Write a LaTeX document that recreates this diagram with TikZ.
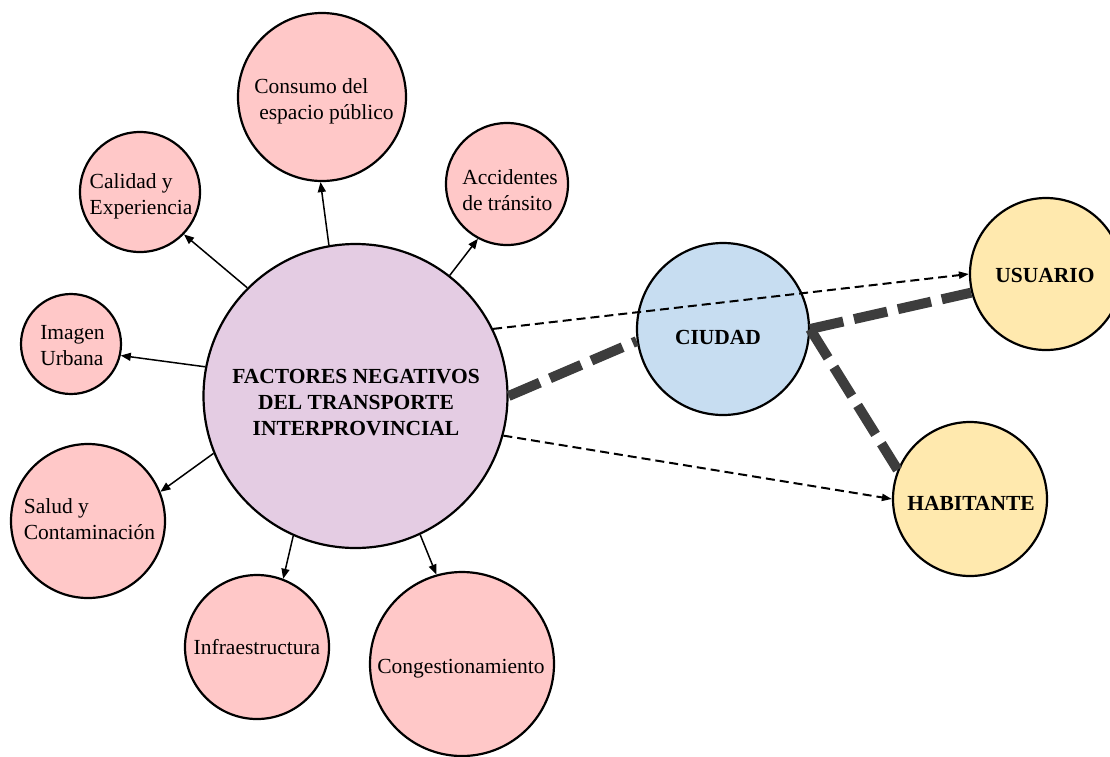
\documentclass[tikz,border=0pt]{standalone}
\usepackage{fontspec}
\setmainfont{Liberation Serif}
\usetikzlibrary{arrows.meta}
\definecolor{satpink}{HTML}{FFC8C8}
\definecolor{corelilac}{HTML}{E4CCE3}
\definecolor{cityblue}{HTML}{C7DDF1}
\definecolor{peopleyellow}{HTML}{FFE9AE}
\definecolor{linkgray}{HTML}{3D3D3D}
\begin{document}
\begin{tikzpicture}[x=1pt,y=-1pt,
  bubble/.style={circle, draw=black, line width=2.2pt, inner sep=0pt, minimum size=#1},
  lbl/.style={font=\fontsize{21.5}{26}\selectfont, align=left, inner sep=0pt},
  blbl/.style={font=\fontsize{21.5}{26}\selectfont\bfseries, align=center, inner sep=0pt},
  effect/.style={line width=1.5pt, -{Triangle[length=10pt,width=8pt]}},
  relation/.style={line width=2pt, dash pattern=on 9pt off 5pt, -{Triangle[length=10pt,width=7pt]}},
  bond/.style={line width=10pt, draw=linkgray, dash pattern=on 34pt off 11pt}
]
\useasboundingbox (0,0) rectangle (1110,756);

% circles
\node[bubble=304pt, fill=corelilac] (fac) at (355.5,396) {};
\node[bubble=168pt, fill=satpink] (consumo) at (322,97) {};
\node[bubble=120pt, fill=satpink] (calidad) at (140,192) {};
\node[bubble=122pt, fill=satpink] (accid) at (507,184) {};
\node[bubble=100pt, fill=satpink] (imagen) at (71,344) {};
\node[bubble=154pt, fill=satpink] (salud) at (88,521) {};
\node[bubble=144pt, fill=satpink] (infra) at (257,647) {};
\node[bubble=184pt, fill=satpink] (congest) at (462,664) {};
\node[bubble=172pt, fill=cityblue] (ciudad) at (723,329) {};
\node[bubble=152pt, fill=peopleyellow] (usuario) at (1046,274) {};
\node[bubble=154pt, fill=peopleyellow] (habitante) at (970,499) {};

% labels
\node[lbl] (consumo-t) at (324,101) {Consumo del\\\hspace*{5pt}espacio público};
\node[lbl] (calidad-t) at (141,196) {Calidad y\\Experiencia};
\node[lbl] (accid-t) at (510,190) {Accidentes\\de tránsito};
\node[lbl] (imagen-t) at (72.5,346) {Imagen\\Urbana};
\node[lbl] (salud-t) at (89.5,519) {Salud y\\Contaminación};
\node[lbl] (infra-t) at (257,647) {Infraestructura};
\node[lbl] (congest-t) at (461,669) {Congestionamiento};
\node[blbl] (fac-t) at (356,403) {FACTORES NEGATIVOS\\DEL TRANSPORTE\\INTERPROVINCIAL};
\node[blbl] (ciudad-t) at (718,337) {CIUDAD};
\node[blbl] (usuario-t) at (1045,275) {USUARIO};
\node[blbl] (habitante-t) at (971,503) {HABITANTE};

% effects radiating from the central circle
\draw[effect] (fac.100.5) -- (consumo.269);
\draw[effect] (fac.135) -- (calidad.316);
\draw[effect] (fac.52.8) -- (accid.242);
\draw[effect] (fac.169) -- (imagen.347);
\draw[effect] (fac.202.9) -- (salud.22);
\draw[effect] (fac.246.7) -- (infra.69.6);
\draw[effect] (fac.295) -- (congest.106.9);

% heavy links through the city
\draw[bond] (fac.0.4) -- (ciudad.188.6);
\draw[bond] (ciudad.0) -- (usuario.194);
\draw[bond] (ciudad.0) -- (habitante.158);

% direct relations to user and inhabitant
\draw[relation] (fac.26) -- (usuario.west);
\draw[relation] (fac.345) -- (habitante.west);
\end{tikzpicture}
\end{document}
